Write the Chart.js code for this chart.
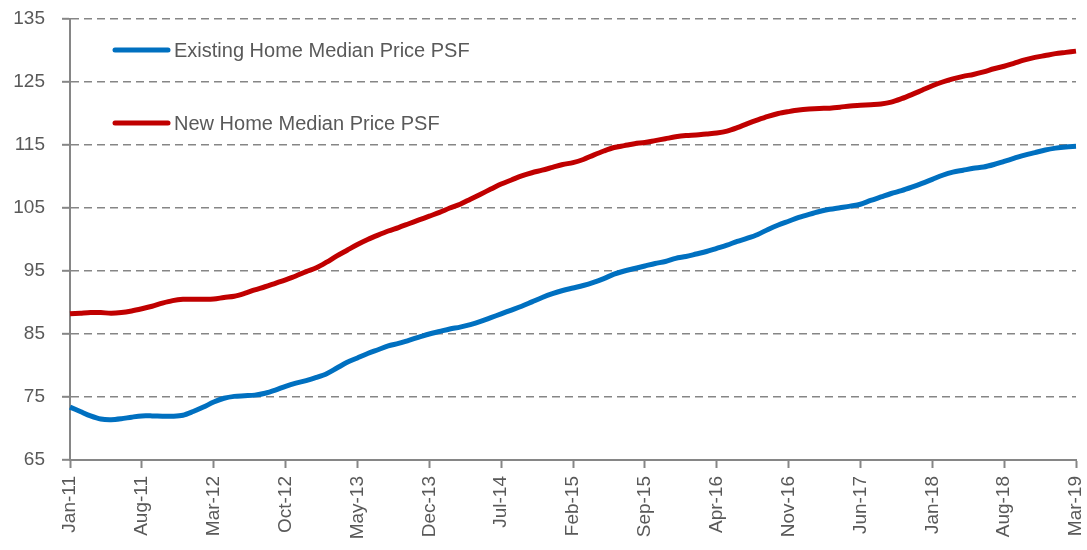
<!DOCTYPE html>
<html>
<head>
<meta charset="utf-8">
<title>Median Price PSF</title>
<script src="https://cdn.jsdelivr.net/npm/chart.js@4.4.1/dist/chart.umd.min.js"></script>
<style>
    html, body { margin: 0; padding: 0; background: #fff; }
    #wrap { width: 1087px; height: 550px; }
</style>
</head>
<body>
<div id="wrap"><canvas id="priceChart" width="1087" height="550"></canvas></div>
<script>
const months = [
    'Jan-11','Feb-11','Mar-11','Apr-11','May-11','Jun-11','Jul-11','Aug-11','Sep-11','Oct-11','Nov-11','Dec-11',
    'Jan-12','Feb-12','Mar-12','Apr-12','May-12','Jun-12','Jul-12','Aug-12','Sep-12','Oct-12','Nov-12','Dec-12',
    'Jan-13','Feb-13','Mar-13','Apr-13','May-13','Jun-13','Jul-13','Aug-13','Sep-13','Oct-13','Nov-13','Dec-13',
    'Jan-14','Feb-14','Mar-14','Apr-14','May-14','Jun-14','Jul-14','Aug-14','Sep-14','Oct-14','Nov-14','Dec-14',
    'Jan-15','Feb-15','Mar-15','Apr-15','May-15','Jun-15','Jul-15','Aug-15','Sep-15','Oct-15','Nov-15','Dec-15',
    'Jan-16','Feb-16','Mar-16','Apr-16','May-16','Jun-16','Jul-16','Aug-16','Sep-16','Oct-16','Nov-16','Dec-16',
    'Jan-17','Feb-17','Mar-17','Apr-17','May-17','Jun-17','Jul-17','Aug-17','Sep-17','Oct-17','Nov-17','Dec-17',
    'Jan-18','Feb-18','Mar-18','Apr-18','May-18','Jun-18','Jul-18','Aug-18','Sep-18','Oct-18','Nov-18','Dec-18',
    'Jan-19','Feb-19','Mar-19'
];

// only these months get a label and a tick mark
const tickLabels = ['Jan-11','Aug-11','Mar-12','Oct-12','May-13','Dec-13','Jul-14','Feb-15',
    'Sep-15','Apr-16','Nov-16','Jun-17','Jan-18','Aug-18','Mar-19'];

const existingPsf = [
    73.4, 72.7, 72.0, 71.5, 71.4, 71.55, 71.8, 72.0, 72.0, 71.95, 71.95, 72.1,
    72.7, 73.4, 74.2, 74.8, 75.1, 75.2, 75.3, 75.6, 76.1, 76.7, 77.2, 77.6,
    78.1, 78.7, 79.6, 80.5, 81.2, 81.9, 82.5, 83.1, 83.5, 84.0, 84.5, 85.0,
    85.4, 85.8, 86.1, 86.5, 87.0, 87.6, 88.2, 88.8, 89.4, 90.1, 90.8, 91.4,
    91.9, 92.3, 92.7, 93.2, 93.8, 94.5, 95.0, 95.4, 95.8, 96.2, 96.5, 97.0,
    97.3, 97.7, 98.1, 98.6, 99.1, 99.7, 100.2, 100.8, 101.6, 102.3, 102.9, 103.5,
    104.0, 104.45, 104.8, 105.05, 105.3, 105.6, 106.2, 106.75, 107.3, 107.75, 108.3, 108.9,
    109.55, 110.2, 110.7, 111.0, 111.3, 111.5, 111.9, 112.4, 112.9, 113.4, 113.8, 114.2,
    114.5, 114.7, 114.8
];

const newPsf = [
    88.2, 88.3, 88.4, 88.4, 88.3, 88.4, 88.65, 89.0, 89.4, 89.9, 90.3, 90.5,
    90.5, 90.5, 90.55, 90.8, 91.0, 91.45, 92.0, 92.5, 93.05, 93.6, 94.2, 94.9,
    95.5, 96.4, 97.4, 98.3, 99.2, 100.0, 100.7, 101.35, 101.9, 102.5, 103.1, 103.7,
    104.3, 105.0, 105.6, 106.4, 107.2, 108.0, 108.8, 109.45, 110.1, 110.6, 111.0, 111.45,
    111.9, 112.2, 112.7, 113.4, 114.05, 114.6, 114.9, 115.2, 115.4, 115.7, 116.0, 116.3,
    116.5, 116.6, 116.75, 116.9, 117.2, 117.75, 118.4, 119.0, 119.55, 120.0, 120.3, 120.55,
    120.7, 120.8, 120.85, 121.0, 121.2, 121.3, 121.4, 121.5, 121.8, 122.35, 123.0, 123.7,
    124.4, 125.0, 125.5, 125.9, 126.2, 126.6, 127.1, 127.5, 128.0, 128.5, 128.9, 129.2,
    129.5, 129.7, 129.9
];

const seriesNames = ['Existing Home Median Price PSF', 'New Home Median Price PSF'];
const seriesColors = ['#0070C0', '#C00000'];

const axisGray = '#868686';
const textGray = '#595959';
const fontFamily = "'Liberation Sans', Arial, sans-serif";

// legend drawn inside the plot, top left, like the original
const insideLegend = {
    id: 'insideLegend',
    afterDatasetsDraw(chart) {
        const ctx = chart.ctx;
        const area = chart.chartArea;
        const rows = [area.top + 31, area.top + 104];
        ctx.save();
        chart.data.datasets.forEach((ds, i) => {
            const y = rows[i];
            const x0 = area.left + 45;
            ctx.strokeStyle = ds.borderColor;
            ctx.lineWidth = 5;
            ctx.lineCap = 'round';
            ctx.beginPath();
            ctx.moveTo(x0, y);
            ctx.lineTo(x0 + 53, y);
            ctx.stroke();
            ctx.fillStyle = textGray;
            ctx.font = '20px ' + fontFamily;
            ctx.textAlign = 'left';
            ctx.textBaseline = 'middle';
            ctx.fillText(ds.label, x0 + 59, y + 1);
        });
        ctx.restore();
    }
};

document.addEventListener('DOMContentLoaded', function() {
    const ctx = document.getElementById('priceChart').getContext('2d');
    new Chart(ctx, {
        type: 'line',
        data: {
            labels: months,
            datasets: [
                {
                    label: seriesNames[0],
                    data: existingPsf,
                    borderColor: seriesColors[0],
                    borderWidth: 5,
                    pointRadius: 0,
                    tension: 0.3,
                    fill: false
                },
                {
                    label: seriesNames[1],
                    data: newPsf,
                    borderColor: seriesColors[1],
                    borderWidth: 5,
                    pointRadius: 0,
                    tension: 0.3,
                    fill: false
                }
            ]
        },
        options: {
            responsive: false,
            animation: false,
            layout: { padding: { top: 19, right: 11, left: 0, bottom: 0 } },
            plugins: {
                legend: { display: false },
                tooltip: { enabled: false }
            },
            scales: {
                x: {
                    afterFit: function(scale) {
                        scale.height = 90;
                        scale.paddingLeft = 0;
                        scale.paddingRight = 0;
                    },
                    grid: {
                        drawOnChartArea: false,
                        drawTicks: true,
                        tickLength: 8,
                        tickWidth: 2,
                        tickColor: function(c) {
                            return tickLabels.includes(months[c.index]) ? axisGray : 'rgba(0,0,0,0)';
                        }
                    },
                    border: { display: true, color: axisGray, width: 2 },
                    ticks: {
                        autoSkip: false,
                        minRotation: 90,
                        maxRotation: 90,
                        padding: 8,
                        color: textGray,
                        font: { family: fontFamily, size: 19 },
                        callback: function(value, index) {
                            const m = months[index];
                            return tickLabels.includes(m) ? m : '';
                        }
                    }
                },
                y: {
                    min: 65,
                    max: 135,
                    afterFit: function(scale) {
                        scale.width = 70;
                        scale.paddingTop = 0;
                        scale.paddingBottom = 0;
                    },
                    grid: {
                        color: function(c) {
                            return c.tick && c.tick.value === 65 ? 'rgba(0,0,0,0)' : axisGray;
                        },
                        lineWidth: 1.6,
                        drawTicks: true,
                        tickLength: 8,
                        tickWidth: 2,
                        tickColor: axisGray
                    },
                    border: { display: true, color: axisGray, width: 2, dash: [8, 5] },
                    ticks: {
                        stepSize: 10,
                        padding: 17,
                        color: textGray,
                        font: { family: fontFamily, size: 19 }
                    }
                }
            }
        },
        plugins: [insideLegend]
    });
});
</script>
</body>
</html>
